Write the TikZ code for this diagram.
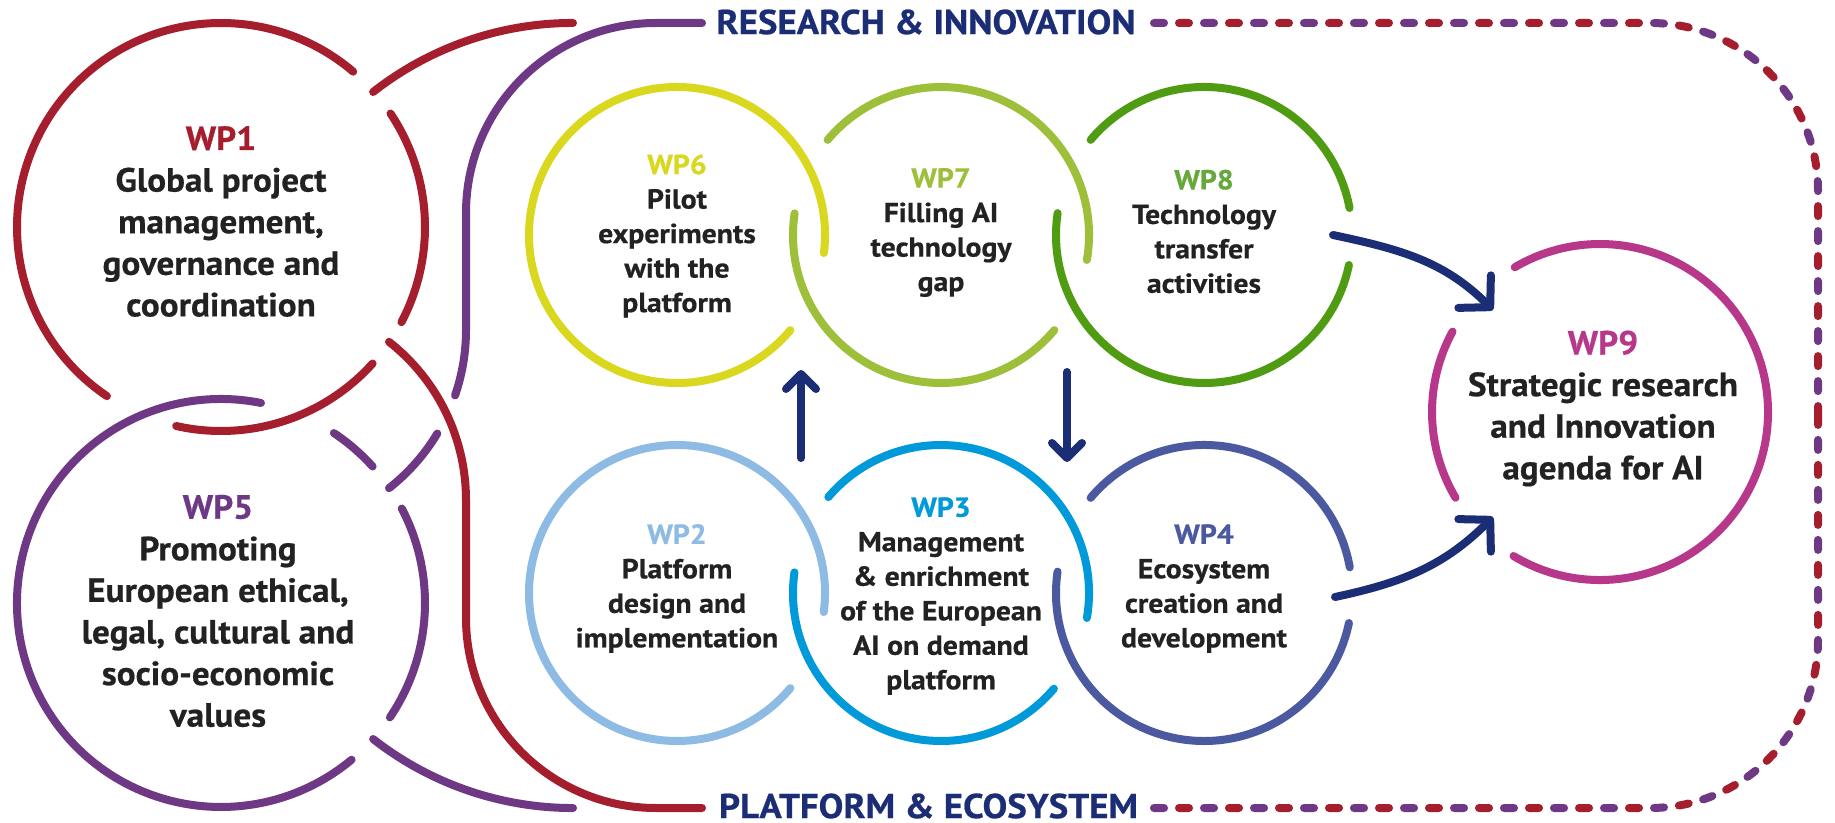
\documentclass[tikz,border=0pt]{standalone}
\usepackage{fontspec}
\setmainfont{PT Sans}
\newfontfamily\smallfam{PT Sans}[FakeStretch=1.08,FakeBold=0.6]
\newfontfamily\bigfam{PT Sans}[FakeStretch=1.05,FakeBold=0.6]
\newfontfamily\titlefam{PT Sans}[FakeStretch=1.07,FakeBold=0.6]
\usetikzlibrary{arrows.meta}
\definecolor{cRed}{HTML}{A51E2D}
\definecolor{cPur}{HTML}{6E3885}
\definecolor{cYel}{HTML}{DAD81E}
\definecolor{cLgr}{HTML}{9DBF3A}
\definecolor{cGrn}{HTML}{4F9C12}
\definecolor{cGrnL}{HTML}{66A83C}
\definecolor{cLbl}{HTML}{8DBBE4}
\definecolor{cBlu}{HTML}{009ADA}
\definecolor{cInd}{HTML}{4A59A0}
\definecolor{cMag}{HTML}{B7378B}
\definecolor{cNav}{HTML}{1B2D74}
\definecolor{cTxt}{HTML}{222222}
\newcommand\ringarc[5]{\draw[ring,#1] (#2) ++(#3:#5) arc[start angle=#3,end angle=#4,radius=#5];}
\begin{document}
\begin{tikzpicture}[x=1pt,y=1pt,line cap=round,
  ring/.style={line width=8pt},
  bigtext/.style={align=center,inner sep=0pt,text=cTxt,font=\bigfam\bfseries\fontsize{33.5}{41.6}\selectfont},
  smalltext/.style={align=center,inner sep=0pt,text=cTxt,font=\smallfam\bfseries\fontsize{27.5}{34.5}\selectfont},
  title/.style={inner sep=0pt,text=cNav,font=\titlefam\bfseries\fontsize{34.5}{34.5}\selectfont},
  arrowline/.style={line width=8pt,draw=cNav},
  smalltip/.style={-{Straight Barb[length=15pt,width=30pt,round]}},
  bigtip/.style={-{Straight Barb[length=22pt,width=46pt,round]}},
  dashred/.style={line width=8pt,draw=cRed,dash pattern=on 10pt off 40pt,dash phase=25pt},
  dashpur/.style={line width=8pt,draw=cPur,dash pattern=on 10pt off 40pt}
]
\useasboundingbox (0,0) rectangle (1835,822);
\fill[white] (0,0) rectangle (1835,822);
% centres
\coordinate (c1) at (221,595);
\coordinate (c5) at (221,219);
\coordinate (c6) at (677,587);
\coordinate (c7) at (941,587);
\coordinate (c8) at (1204,587);
\coordinate (c2) at (677,229);
\coordinate (c3) at (941,229);
\coordinate (c4) at (1204,229);
\coordinate (c9) at (1600,410);
% WP1 ring
\ringarc{cRed}{c1}{49.6}{236}{204}
\ringarc{cRed}{c1}{33.8}{-27.8}{204}
\ringarc{cRed}{c1}{-42}{-102.7}{204}
% WP5 ring
\ringarc{cPur}{c5}{78.7}{309.8}{204}
\ringarc{cPur}{c5}{56.4}{42}{204}
\ringarc{cPur}{c5}{27.6}{-34.1}{204}
% wraps
\draw[ring,cRed] (373.1,730) arc[start angle=128.1,end angle=90,radius=324];
\draw[ring,cPur] (373.1,83) arc[start angle=-128.1,end angle=-90,radius=324];
\draw[ring,cPur] (702,799) -- (656,799) arc[start angle=90,end angle=180,radius=190] -- (466,492) arc[start angle=0,end angle=-19,radius=201];
\draw[ring,cPur] (265,492) ++(-31:201) arc[start angle=-31,end angle=-51.9,radius=201];
\draw[ring,cRed] (702,14) -- (656,14) arc[start angle=-90,end angle=-180,radius=190] -- (466,322) arc[start angle=0,end angle=51.9,radius=201];
% small rings
\ringarc{cYel}{c6}{-7}{320}{148}
\ringarc{cLgr}{c7}{-9.7}{140}{148}
\ringarc{cLgr}{c7}{171.6}{320}{148}
\ringarc{cGrn}{c8}{10.5}{140}{148}
\ringarc{cGrn}{c8}{171.5}{348.3}{148}
\ringarc{cLbl}{c2}{-7.4}{320}{148}
\ringarc{cBlu}{c3}{-9.7}{139.6}{148}
\ringarc{cBlu}{c3}{172}{319.7}{148}
\ringarc{cInd}{c4}{10}{140}{148}
\ringarc{cInd}{c4}{171.7}{348.3}{148}
\ringarc{cMag}{c9}{-121}{120.5}{168}
\ringarc{cMag}{c9}{151.4}{210.7}{168}
% dashed frame
\draw[dashpur] (1154,799) -- (1650,799) arc[start angle=90,end angle=0,radius=168] -- (1818,407);
\draw[dashred] (1154,799) -- (1650,799) arc[start angle=90,end angle=0,radius=168] -- (1818,407);
\draw[dashpur] (1154,14) -- (1650,14) arc[start angle=-90,end angle=0,radius=168] -- (1818,407);
\draw[dashred] (1154,14) -- (1650,14) arc[start angle=-90,end angle=0,radius=168] -- (1818,407);
% texts
\node[title] (ri) at (926,800) {RESEARCH \& INNOVATION};
\node[title] (pe) at (928.5,16) {PLATFORM \& ECOSYSTEM};
\node[bigtext] (t1) at (221,600.5) {\textcolor{cRed}{WP1}\\Global project\\management,\\governance and\\coordination};
\node[bigtext] (t5) at (218,211) {\textcolor{cPur}{WP5}\\Promoting\\European ethical,\\legal, cultural and\\socio-economic\\values};
\node[bigtext] (t9) at (1603,413.5) {\textcolor{cMag}{WP9}\\Strategic research\\and Innovation\\agenda for AI};
\node[smalltext] (t6) at (677,586) {\textcolor{cYel}{WP6}\\Pilot\\experiments\\with the\\platform};
\node[smalltext] (t7) at (941,589.5) {\textcolor{cLgr}{WP7}\\Filling AI\\technology\\gap};
\node[smalltext] (t8) at (1204,590.5) {\textcolor{cGrnL}{WP8}\\Technology\\transfer\\activities};
\node[smalltext] (t2) at (677,233.5) {\textcolor{cLbl}{WP2}\\Platform\\design and\\implementation};
\node[smalltext] (t3) at (941,226) {\textcolor{cBlu}{WP3}\\Management\\\& enrichment\\of the European\\AI on demand\\platform};
\node[smalltext] (t4) at (1204,233.5) {\textcolor{cInd}{WP4}\\Ecosystem\\creation and\\development};
% arrows
\coordinate (u1) at (801,364);
\coordinate (u2) at (801,452);
\coordinate (d1) at (1067,450);
\coordinate (d2) at (1067,360);
\coordinate (a1) at (1333,587);
\coordinate (a2) at (1493,512);
\coordinate (b1) at (1335,225);
\coordinate (b2) at (1493,305);
\draw[arrowline,smalltip] (u1) -- (u2);
\draw[arrowline,smalltip] (d1) -- (d2);
\draw[arrowline,bigtip] (a1) to[out=-12,in=135] (a2);
\draw[arrowline,bigtip] (b1) to[out=12,in=-135] (b2);
\end{tikzpicture}
\end{document}
